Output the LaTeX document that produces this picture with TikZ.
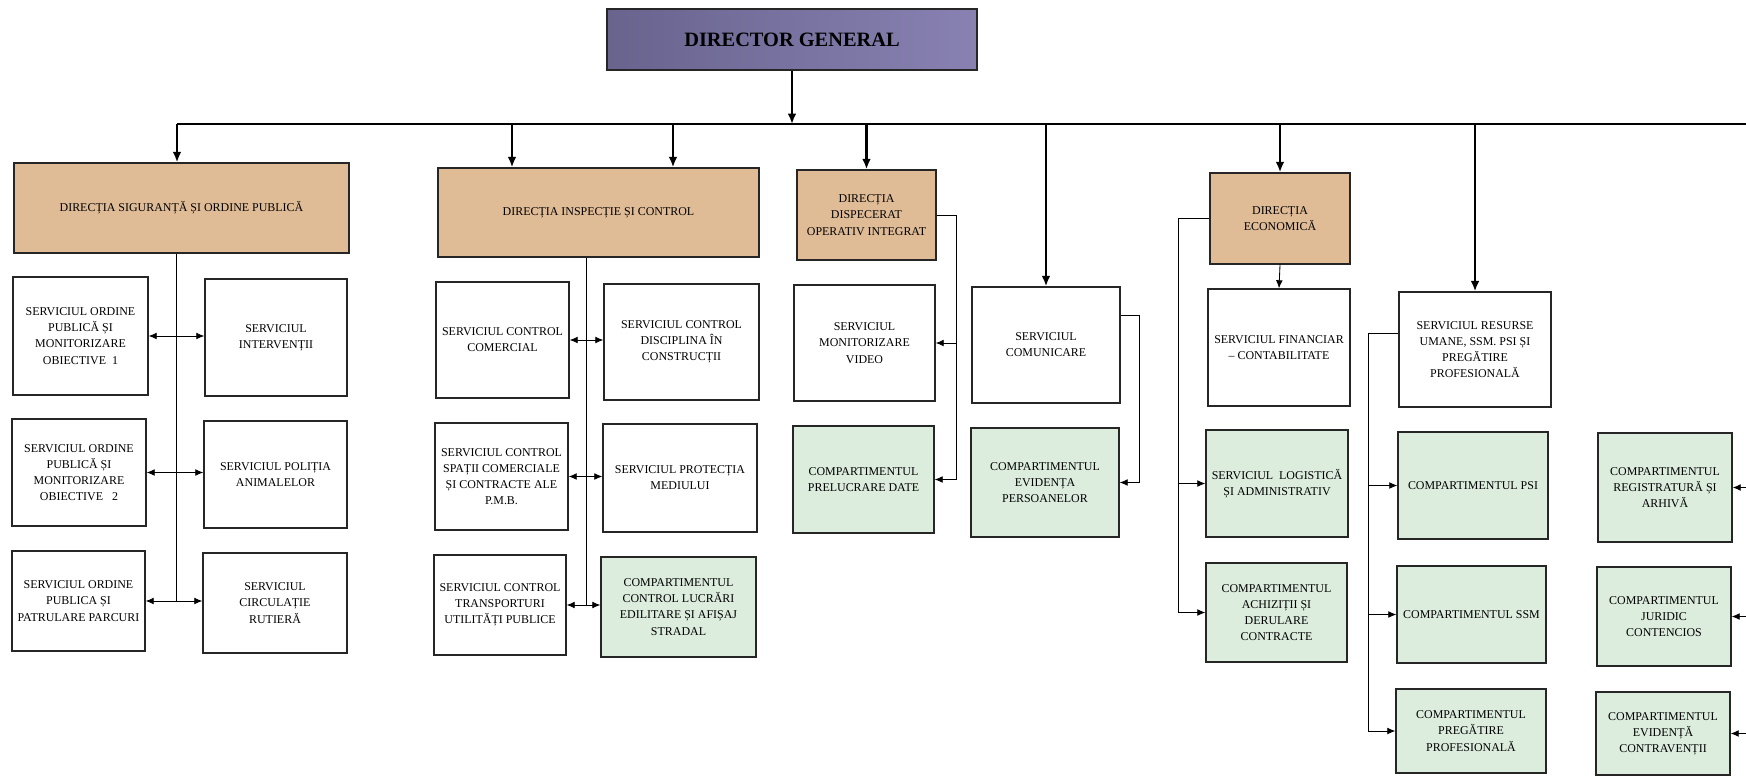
\documentclass[tikz,border=0pt]{standalone}
\usepackage{fontspec}
\setmainfont{Liberation Serif}
\usepackage{tikz}
\usetikzlibrary{arrows.meta,calc}

\definecolor{dgpurple}{RGB}{136,129,178}
\definecolor{dgdark}{RGB}{104,100,142}
\definecolor{dirtan}{RGB}{224,188,150}
\definecolor{compgreen}{RGB}{220,237,222}

\begin{document}
\begin{tikzpicture}[x=0.025cm,y=-0.025cm,
    >={Latex[length=2mm,width=1.7mm]},
    box/.style={draw=black!85, line width=1pt, align=center, inner sep=1pt,
        font=\fontsize{8.5}{11.5}\selectfont},
    svc/.style={box, fill=white},
    comp/.style={box, fill=compgreen},
    dir/.style={box, fill=dirtan},
    dg/.style={draw=black!85, line width=1pt, left color=dgdark, right color=dgpurple,
        font=\bfseries\fontsize{14.5}{17}\selectfont},
    sz/.style 2 args={minimum width=#1*0.025cm, minimum height=#2*0.025cm},
    bus/.style={line width=1.6pt},
    drop/.style={line width=1.6pt, -{Latex[length=2.6mm,width=2.2mm]}},
    link/.style={line width=0.6pt}]
        \useasboundingbox (0,0) rectangle (1746,776);

        % Director and directions
        \node[dg, sz={370}{61}] (dg) at (792,39.5) {DIRECTOR GENERAL};
        \node[dir, sz={335}{90}] (sig) at (181.5,208) {DIRECȚIA SIGURANȚĂ ȘI ORDINE PUBLICĂ};
        \node[dir, sz={321}{89}] (insp) at (598.5,212.5) {DIRECȚIA INSPECȚIE ȘI CONTROL};
        \node[dir, sz={139}{90}] (disp) at (866.5,215) {DIRECȚIA\\DISPECERAT\\OPERATIV INTEGRAT};
        \node[dir, sz={140}{91}] (econ) at (1280,218.5) {DIRECȚIA\\ECONOMICĂ};

        % Siguranta si ordine publica
        \node[svc, sz={135}{118}] (a1) at (80.5,336) {SERVICIUL ORDINE\\PUBLICĂ ȘI\\MONITORIZARE\\OBIECTIVE\ \ 1};
        \node[svc, sz={142}{117}] (b1) at (276,337.5) {SERVICIUL\\INTERVENȚII};
        \node[svc, sz={134}{107}] (a2) at (79,472.5) {SERVICIUL ORDINE\\PUBLICĂ ȘI\\MONITORIZARE\\OBIECTIVE\ \ \ 2};
        \node[svc, sz={143}{107}] (b2) at (275.5,474.5) {SERVICIUL POLIȚIA\\ANIMALELOR};
        \node[svc, sz={133}{100}] (a3) at (78.5,601) {SERVICIUL ORDINE\\PUBLICA ȘI\\PATRULARE PARCURI};
        \node[svc, sz={144}{100}] (b3) at (275,603) {SERVICIUL\\CIRCULAȚIE\\RUTIERĂ};

        % Inspectie si control
        \node[svc, sz={133}{116}] (c1) at (502.5,340) {SERVICIUL CONTROL\\COMERCIAL};
        \node[svc, sz={155}{116}] (d1) at (681.5,342) {SERVICIUL CONTROL\\DISCIPLINA ÎN\\CONSTRUCȚII};
        \node[svc, sz={133}{107}] (c2) at (501.5,476.5) {SERVICIUL CONTROL\\SPAȚII COMERCIALE\\ȘI CONTRACTE ALE\\P.M.B.};
        \node[svc, sz={154}{108}] (d2) at (680,478) {SERVICIUL PROTECȚIA\\MEDIULUI};
        \node[svc, sz={132}{100}] (c3) at (500,605) {SERVICIUL CONTROL\\TRANSPORTURI\\UTILITĂȚI PUBLICE};
        \node[comp, sz={155}{100}] (d3) at (678.5,607) {COMPARTIMENTUL\\CONTROL LUCRĂRI\\EDILITARE ȘI AFIȘAJ\\STRADAL};

        % Dispecerat, comunicare
        \node[svc, sz={141}{116}] (e1) at (864.5,343) {SERVICIUL\\MONITORIZARE\\VIDEO};
        \node[comp, sz={141}{107}] (f2) at (863.5,479.5) {COMPARTIMENTUL\\PRELUCRARE DATE};
        \node[svc, sz={148}{116}] (g1) at (1046,345) {SERVICIUL\\COMUNICARE};
        \node[comp, sz={148}{109}] (g2) at (1045,482.5) {COMPARTIMENTUL\\EVIDENȚA\\PERSOANELOR};

        % Economica
        \node[svc, sz={142}{117}] (h1) at (1279,347.5) {SERVICIUL FINANCIAR\\– CONTABILITATE};
        \node[comp, sz={142}{107}] (h2) at (1277,483.5) {SERVICIUL\ \ LOGISTICĂ\\ȘI ADMINISTRATIV};
        \node[comp, sz={141}{99}] (h3) at (1276.5,612.5) {COMPARTIMENTUL\\ACHIZIȚII ȘI\\DERULARE\\CONTRACTE};

        % Resurse umane
        \node[svc, sz={152}{115}] (i1) at (1475,349.5) {SERVICIUL RESURSE\\UMANE, SSM. PSI ȘI\\PREGĂTIRE\\PROFESIONALĂ};
        \node[comp, sz={150}{107}] (i2) at (1473,485.5) {COMPARTIMENTUL PSI};
        \node[comp, sz={149}{97}] (i3) at (1471.5,614.5) {COMPARTIMENTUL SSM};
        \node[comp, sz={150}{84}] (i4) at (1471,731) {COMPARTIMENTUL\\PREGĂTIRE\\PROFESIONALĂ};

        % Right column
        \node[comp, sz={134}{109}] (j1) at (1665,487.5) {COMPARTIMENTUL\\REGISTRATURĂ ȘI\\ARHIVĂ};
        \node[comp, sz={134}{99}] (j2) at (1664,616.5) {COMPARTIMENTUL\\JURIDIC\\CONTENCIOS};
        \node[comp, sz={134}{83}] (j3) at (1663,733.5) {COMPARTIMENTUL\\EVIDENȚĂ\\CONTRAVENȚII};

        % Main bus and drops
        \coordinate (busL) at (177,124);
        \coordinate (busR) at (1746,124);
        \coordinate (n1) at (512,124);
        \coordinate (n2) at (673,124);
        \draw[bus] (busL) -- (busR);
        \draw[drop] (dg.south) -- (dg.south |- busL);
        \draw[drop] (busL) -- (busL |- sig.north);
        \draw[drop] (n1) -- (n1 |- insp.north);
        \draw[drop] (n2) -- (n2 |- insp.north);
        \draw[drop] (disp.north |- busL) -- (disp.north);
        \draw[drop] (g1.north |- busL) -- (g1.north);
        \draw[drop] (econ.north |- busL) -- (econ.north);
        \draw[drop] (i1.north |- busL) -- (i1.north);

        % Siguranta links
        \coordinate (sv) at ($(a1.east)!0.5!(b1.west)$);
        \draw[link] (sig.south -| sv) -- (sv |- a3.east);
        \draw[link,<->] (a1.east) -- (a1.east -| b1.west);
        \draw[link,<->] (a2.east) -- (a2.east -| b2.west);
        \draw[link,<->] (a3.east) -- (a3.east -| b3.west);

        % Inspectie links
        \coordinate (nv) at ($(c1.east)!0.5!(d1.west)$);
        \draw[link] (insp.south -| nv) -- (nv |- c3.east);
        \draw[link,<->] (c1.east) -- (c1.east -| d1.west);
        \draw[link,<->] (c2.east) -- (c2.east -| d2.west);
        \draw[link,<->] (c3.east) -- (c3.east -| d3.west);

        % Dispecerat links
        \coordinate (dv) at ($(disp.east)+(20,0)$);
        \draw[link] (disp.east) -- (dv) -- (dv |- f2.east);
        \draw[link,->] (dv |- e1.east) -- (e1.east);
        \draw[link,->] (dv |- f2.east) -- (f2.east);

        % Comunicare link
        \coordinate (gv) at ($(g1.north east)!0.25!(g1.south east)+(19,0)$);
        \draw[link,->] (gv -| g1.east) -- (gv) |- (g2.east);

        % Economica links
        \coordinate (ev) at ($(econ.west)+(-31,0)$);
        \draw[link] (econ.west) -- (ev) -- (ev |- h3.west);
        \draw[link,->] (ev |- h2.west) -- (h2.west);
        \draw[link,->] (ev |- h3.west) -- (h3.west);
        \draw[link,->] (econ.south) -- (h1.north);

        % Resurse umane links
        \coordinate (iv) at ($(i1.north west)!0.36!(i1.south west)+(-30,0)$);
        \draw[link] (iv -| i1.west) -- (iv) -- (iv |- i4.west);
        \draw[link,->] (iv |- i2.west) -- (i2.west);
        \draw[link,->] (iv |- i3.west) -- (i3.west);
        \draw[link,->] (iv |- i4.west) -- (i4.west);

        % From the right edge
        \coordinate (jr) at (1746,0);
        \draw[link,->] (jr |- j1.east) -- (j1.east);
        \draw[link,->] (jr |- j2.east) -- (j2.east);
        \draw[link,->] (jr |- j3.east) -- (j3.east);
    \end{tikzpicture}
\end{document}
